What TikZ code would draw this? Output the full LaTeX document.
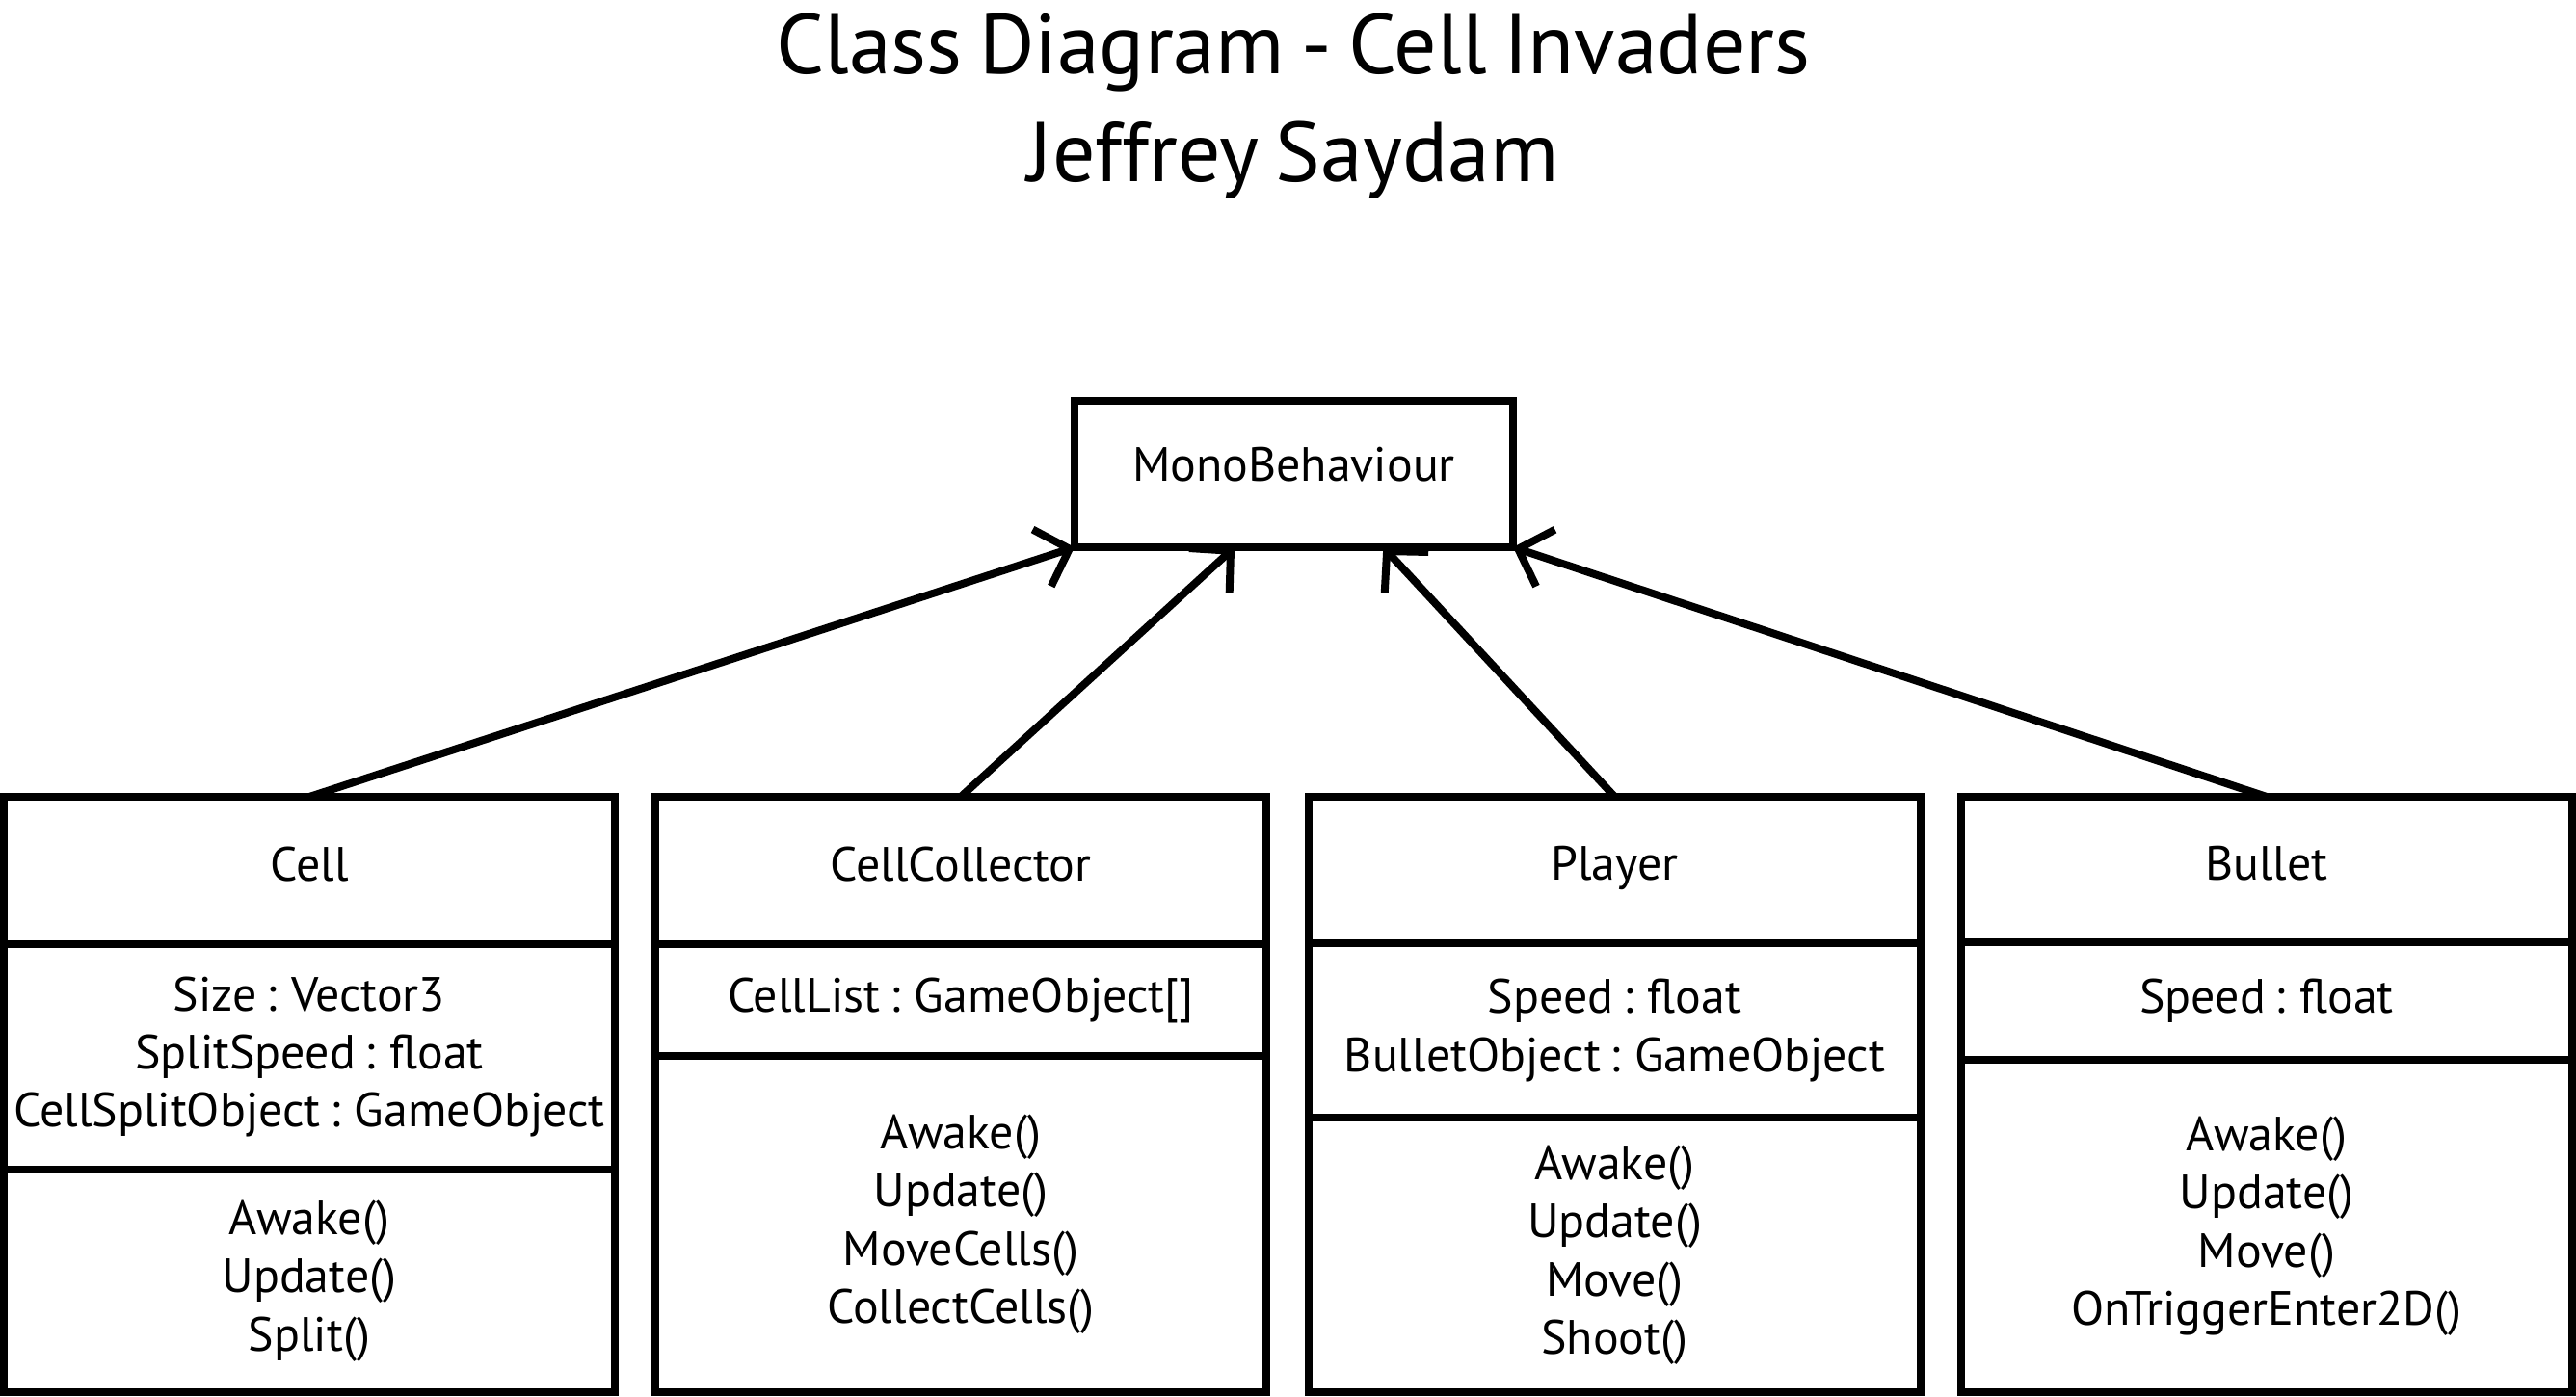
\documentclass[tikz,border=0pt]{standalone}
\usepackage{fontspec}
\setmainfont[WordSpace=0.75]{PT Sans}
\usetikzlibrary{positioning,arrows.meta,calc}

\begin{document}
\begin{tikzpicture}[
  box/.style={draw, line width=2.27pt, outer sep=0pt, inner sep=0pt, align=center,
    font=\fontsize{14.2}{17.2}\selectfont},
  head/.style={box, text height=0.7em, text depth=0.1em},
  inherit/.style={line width=2.27pt, -{Straight Barb[length=0.3cm, width=0.62cm, line width=2.27pt]}}]

\useasboundingbox (0,0) rectangle (26.73,-14.50);

\node[align=center, font=\fontsize{25}{32}\selectfont] (title) at (13.42,-1.10) {Class Diagram - Cell Invaders\\Jeffrey Saydam};

\node[head, text depth=0.25em, minimum width=4.55cm, minimum height=1.52cm] (mono) at (13.425,-4.92) {MonoBehaviour};

\node[head, minimum width=6.34cm, minimum height=1.53cm] (cell) at (3.21,-9.035) {Cell};
\node[box, minimum width=6.34cm, minimum height=2.34cm] (cellattr) [below=0pt of cell] {Size : Vector3\\SplitSpeed : float\\CellSplitObject : GameObject};
\node[box, minimum width=6.34cm, minimum height=2.31cm] (cellop) [below=0pt of cellattr] {Awake()\\Update()\\Split()};

\node[head, minimum width=6.34cm, minimum height=1.53cm] (coll) at (9.97,-9.035) {CellCollector};
\node[box, minimum width=6.34cm, minimum height=1.16cm] (collattr) [below=0pt of coll] {CellList : GameObject[]};
\node[box, minimum width=6.34cm, minimum height=3.49cm] (collop) [below=0pt of collattr] {Awake()\\Update()\\MoveCells()\\CollectCells()};

\node[head, minimum width=6.35cm, minimum height=1.52cm] (player) at (16.755,-9.03) {Player};
\node[box, minimum width=6.35cm, minimum height=1.81cm] (playerattr) [below=0pt of player] {Speed : float\\BulletObject : GameObject};
\node[box, minimum width=6.35cm, minimum height=2.85cm] (playerop) [below=0pt of playerattr] {Awake()\\Update()\\Move()\\Shoot()};

\node[head, minimum width=6.34cm, minimum height=1.51cm] (bullet) at (23.52,-9.025) {Bullet};
\node[box, minimum width=6.34cm, minimum height=1.22cm] (bulletattr) [below=0pt of bullet] {Speed : float};
\node[box, minimum width=6.34cm, minimum height=3.45cm] (bulletop) [below=0pt of bulletattr] {Awake()\\Update()\\Move()\\OnTriggerEnter2D()};

\coordinate (m1) at ($(mono.south west)!0.365!(mono.south east)$);
\coordinate (m2) at ($(mono.south west)!0.704!(mono.south east)$);

\draw[inherit] (cell.north) -- (mono.south west);
\draw[inherit] (coll.north) -- (m1);
\draw[inherit] (player.north) -- (m2);
\draw[inherit] (bullet.north) -- (mono.south east);

\end{tikzpicture}
\end{document}
